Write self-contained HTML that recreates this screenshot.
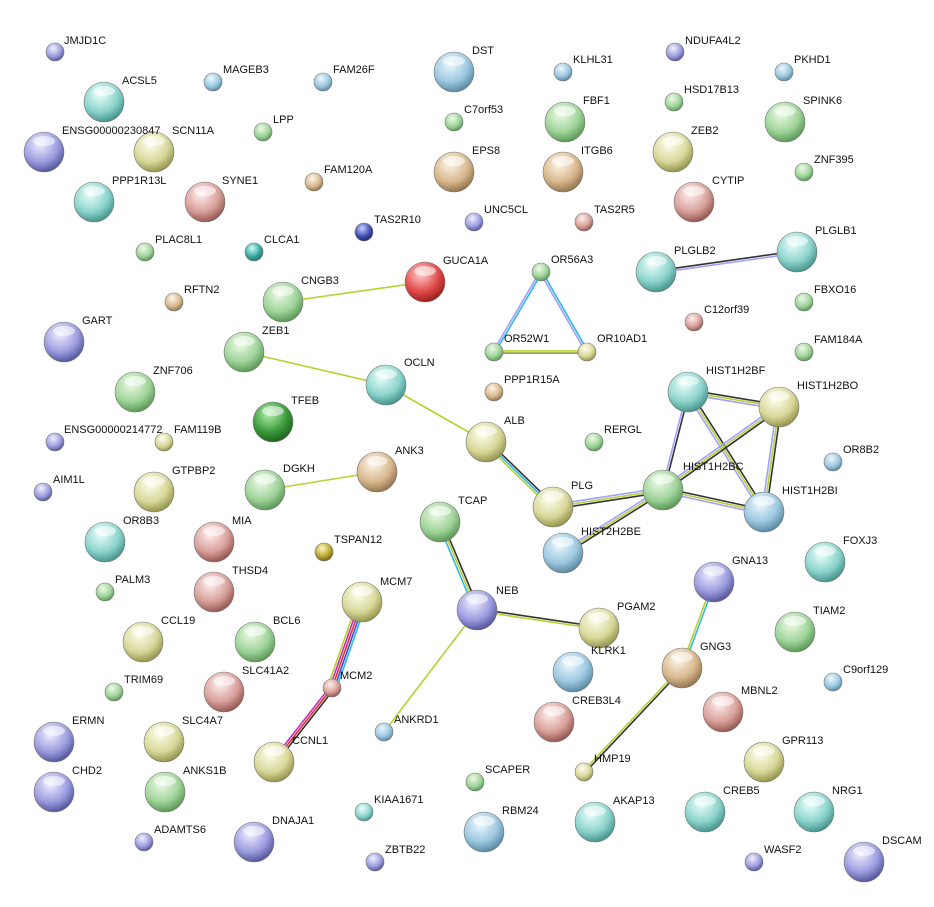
<!DOCTYPE html>
<html><head><meta charset="utf-8"><style>
html,body{margin:0;padding:0;background:#fff;width:934px;height:907px;overflow:hidden}
svg text{font-family:"Liberation Sans",sans-serif;font-size:11px;fill:#111}
</style></head><body>
<svg id="s" width="934" height="907" viewBox="0 0 934 907" xmlns="http://www.w3.org/2000/svg">
<defs>
<radialGradient id="gr" cx="40%" cy="30%" r="75%"><stop offset="0" stop-color="#eefbe8"/><stop offset=".6" stop-color="#9fd49a"/><stop offset="1" stop-color="#4f8f4a"/></radialGradient>
<radialGradient id="bl" cx="40%" cy="30%" r="75%"><stop offset="0" stop-color="#eef8ff"/><stop offset=".6" stop-color="#9cc8e0"/><stop offset="1" stop-color="#4f7f9a"/></radialGradient>
<radialGradient id="pu" cx="40%" cy="30%" r="75%"><stop offset="0" stop-color="#f0f0ff"/><stop offset=".6" stop-color="#9c9ce0"/><stop offset="1" stop-color="#4a4a90"/></radialGradient>
<radialGradient id="tn" cx="40%" cy="30%" r="75%"><stop offset="0" stop-color="#fff6ea"/><stop offset=".6" stop-color="#d8b88e"/><stop offset="1" stop-color="#8a6a40"/></radialGradient>
<radialGradient id="rd" cx="40%" cy="30%" r="75%"><stop offset="0" stop-color="#ffd0d0"/><stop offset=".6" stop-color="#e04848"/><stop offset="1" stop-color="#901818"/></radialGradient>
<radialGradient id="te" cx="40%" cy="30%" r="75%"><stop offset="0" stop-color="#eefffc"/><stop offset=".6" stop-color="#8cd4cc"/><stop offset="1" stop-color="#3a8a84"/></radialGradient>
<radialGradient id="ye" cx="40%" cy="30%" r="75%"><stop offset="0" stop-color="#fffff0"/><stop offset=".6" stop-color="#d8d89a"/><stop offset="1" stop-color="#8a8a40"/></radialGradient>
<radialGradient id="pk" cx="40%" cy="30%" r="75%"><stop offset="0" stop-color="#fff0f0"/><stop offset=".6" stop-color="#d8a09a"/><stop offset="1" stop-color="#8a4a44"/></radialGradient>
<radialGradient id="dg" cx="40%" cy="30%" r="75%"><stop offset="0" stop-color="#b8f0b0"/><stop offset=".6" stop-color="#3a9a3a"/><stop offset="1" stop-color="#1a5a1a"/></radialGradient>
<radialGradient id="db" cx="40%" cy="30%" r="75%"><stop offset="0" stop-color="#c8d0ff"/><stop offset=".6" stop-color="#4050b0"/><stop offset="1" stop-color="#1a2060"/></radialGradient>
<radialGradient id="ol" cx="40%" cy="30%" r="75%"><stop offset="0" stop-color="#fff8c0"/><stop offset=".6" stop-color="#b8a830"/><stop offset="1" stop-color="#6a5a10"/></radialGradient>
<radialGradient id="tk" cx="40%" cy="30%" r="75%"><stop offset="0" stop-color="#c8fff8"/><stop offset=".6" stop-color="#3aa8a0"/><stop offset="1" stop-color="#1a6a64"/></radialGradient>
</defs>
<g id="edges"></g>
<g id="nodes" stroke="#777" stroke-width="0.6"></g>
<g id="labels">
<text x="64" y="44">JMJD1C</text><text x="122" y="84">ACSL5</text><text x="223" y="73">MAGEB3</text><text x="333" y="73">FAM26F</text><text x="472" y="54">DST</text><text x="573" y="63">KLHL31</text><text x="685" y="44">NDUFA4L2</text><text x="794" y="63">PKHD1</text>
<text x="62" y="134">ENSG00000230847</text><text x="172" y="134">SCN11A</text><text x="273" y="123">LPP</text><text x="464" y="113">C7orf53</text><text x="583" y="104">FBF1</text><text x="684" y="93">HSD17B13</text><text x="691" y="134">ZEB2</text><text x="803" y="104">SPINK6</text>
<text x="112" y="184">PPP1R13L</text><text x="222" y="184">SYNE1</text><text x="324" y="173">FAM120A</text><text x="472" y="154">EPS8</text><text x="581" y="154">ITGB6</text><text x="814" y="163">ZNF395</text><text x="712" y="184">CYTIP</text>
<text x="374" y="223">TAS2R10</text><text x="484" y="213">UNC5CL</text><text x="594" y="213">TAS2R5</text><text x="155" y="243">PLAC8L1</text><text x="264" y="243">CLCA1</text><text x="815" y="234">PLGLB1</text><text x="674" y="254">PLGLB2</text>
<text x="443" y="264">GUCA1A</text><text x="551" y="263">OR56A3</text><text x="301" y="284">CNGB3</text><text x="184" y="293">RFTN2</text><text x="814" y="293">FBXO16</text><text x="704" y="313">C12orf39</text>
<text x="82" y="324">GART</text><text x="262" y="334">ZEB1</text><text x="504" y="342">OR52W1</text><text x="597" y="342">OR10AD1</text><text x="814" y="343">FAM184A</text><text x="404" y="366">OCLN</text><text x="504" y="383">PPP1R15A</text><text x="153" y="374">ZNF706</text>
<text x="706" y="374">HIST1H2BF</text><text x="797" y="389">HIST1H2BO</text><text x="291" y="404">TFEB</text><text x="504" y="424">ALB</text><text x="604" y="433">RERGL</text><text x="64" y="433">ENSG00000214772</text><text x="174" y="433">FAM119B</text><text x="843" y="453">OR8B2</text>
<text x="395" y="454">ANK3</text><text x="283" y="472">DGKH</text><text x="172" y="474">GTPBP2</text><text x="53" y="483">AIM1L</text><text x="683" y="470">HIST1H2BC</text><text x="782" y="494">HIST1H2BI</text><text x="571" y="489">PLG</text><text x="458" y="504">TCAP</text>
<text x="581" y="535">HIST2H2BE</text><text x="123" y="524">OR8B3</text><text x="232" y="524">MIA</text><text x="334" y="543">TSPAN12</text><text x="843" y="544">FOXJ3</text><text x="115" y="583">PALM3</text><text x="232" y="574">THSD4</text><text x="732" y="564">GNA13</text>
<text x="380" y="585">MCM7</text><text x="496" y="594">NEB</text><text x="617" y="610">PGAM2</text><text x="813" y="614">TIAM2</text><text x="161" y="624">CCL19</text><text x="273" y="624">BCL6</text><text x="591" y="654">KLRK1</text><text x="700" y="650">GNG3</text><text x="843" y="673">C9orf129</text>
<text x="124" y="683">TRIM69</text><text x="242" y="674">SLC41A2</text><text x="340" y="679">MCM2</text><text x="741" y="694">MBNL2</text><text x="72" y="724">ERMN</text><text x="182" y="724">SLC4A7</text><text x="394" y="723">ANKRD1</text><text x="572" y="704">CREB3L4</text>
<text x="292" y="744">CCNL1</text><text x="782" y="744">GPR113</text><text x="594" y="762">HMP19</text><text x="72" y="774">CHD2</text><text x="183" y="774">ANKS1B</text><text x="485" y="773">SCAPER</text><text x="613" y="804">AKAP13</text><text x="723" y="794">CREB5</text><text x="832" y="794">NRG1</text>
<text x="374" y="803">KIAA1671</text><text x="502" y="814">RBM24</text><text x="154" y="833">ADAMTS6</text><text x="272" y="824">DNAJA1</text><text x="385" y="853">ZBTB22</text><text x="764" y="853">WASF2</text><text x="882" y="844">DSCAM</text>
</g>
</svg>
<script>
var N={JMJD1C:[55,52,9,'pu'],ACSL5:[104,102,20,'te'],MAGEB3:[213,82,9,'bl'],FAM26F:[323,82,9,'bl'],DST:[454,72,20,'bl'],KLHL31:[563,72,9,'bl'],NDUFA4L2:[675,52,9,'pu'],PKHD1:[784,72,9,'bl'],
E1:[44,152,20,'pu'],SCN11A:[154,152,20,'ye'],LPP:[263,132,9,'gr'],C7:[454,122,9,'gr'],FBF1:[565,122,20,'gr'],HSD:[674,102,9,'gr'],ZEB2:[673,152,20,'ye'],SPINK6:[785,122,20,'gr'],
PPP1R13L:[94,202,20,'te'],SYNE1:[205,202,20,'pk'],FAM120A:[314,182,9,'tn'],EPS8:[454,172,20,'tn'],ITGB6:[563,172,20,'tn'],ZNF395:[804,172,9,'gr'],CYTIP:[694,202,20,'pk'],
TAS2R10:[364,232,9,'db'],UNC5CL:[474,222,9,'pu'],TAS2R5:[584,222,9,'pk'],PLAC8L1:[145,252,9,'gr'],CLCA1:[254,252,9,'tk'],PLGLB1:[797,252,20,'te'],PLGLB2:[656,272,20,'te'],
GUCA1A:[425,282,20,'rd'],OR56A3:[541,272,9,'gr'],CNGB3:[283,302,20,'gr'],RFTN2:[174,302,9,'tn'],FBXO16:[804,302,9,'gr'],C12:[694,322,9,'pk'],
GART:[64,342,20,'pu'],ZEB1:[244,352,20,'gr'],OR52W1:[494,352,9,'gr'],OR10AD1:[587,352,9,'ye'],FAM184A:[804,352,9,'gr'],OCLN:[386,385,20,'te'],PPP1R15A:[494,392,9,'tn'],ZNF706:[135,392,20,'gr'],
BF:[688,392,20,'te'],BO:[779,407,20,'ye'],TFEB:[273,422,20,'dg'],ALB:[486,442,20,'ye'],RERGL:[594,442,9,'gr'],E2:[55,442,9,'pu'],FAM119B:[164,442,9,'ye'],OR8B2:[833,462,9,'bl'],
ANK3:[377,472,20,'tn'],DGKH:[265,490,20,'gr'],GTPBP2:[154,492,20,'ye'],AIM1L:[43,492,9,'pu'],BC:[663,490,20,'gr'],BI:[764,512,20,'bl'],PLG:[553,507,20,'ye'],TCAP:[440,522,20,'gr'],
BE:[563,553,20,'bl'],OR8B3:[105,542,20,'te'],MIA:[214,542,20,'pk'],TSPAN12:[324,552,9,'ol'],FOXJ3:[825,562,20,'te'],PALM3:[105,592,9,'gr'],THSD4:[214,592,20,'pk'],GNA13:[714,582,20,'pu'],
MCM7:[362,602,20,'ye'],NEB:[477,610,20,'pu'],PGAM2:[599,628,20,'ye'],TIAM2:[795,632,20,'gr'],CCL19:[143,642,20,'ye'],BCL6:[255,642,20,'gr'],KLRK1:[573,672,20,'bl'],GNG3:[682,668,20,'tn'],C9:[833,682,9,'bl'],
TRIM69:[114,692,9,'gr'],SLC41A2:[224,692,20,'pk'],MCM2:[332,688,9,'pk'],MBNL2:[723,712,20,'pk'],ERMN:[54,742,20,'pu'],SLC4A7:[164,742,20,'ye'],ANKRD1:[384,732,9,'bl'],CREB3L4:[554,722,20,'pk'],
CCNL1:[274,762,20,'ye'],GPR113:[764,762,20,'ye'],HMP19:[584,772,9,'ye'],CHD2:[54,792,20,'pu'],ANKS1B:[165,792,20,'gr'],SCAPER:[475,782,9,'gr'],AKAP13:[595,822,20,'te'],CREB5:[705,812,20,'te'],NRG1:[814,812,20,'te'],
KIAA1671:[364,812,9,'te'],RBM24:[484,832,20,'bl'],ADAMTS6:[144,842,9,'pu'],DNAJA1:[254,842,20,'pu'],ZBTB22:[375,862,9,'pu'],WASF2:[754,862,9,'pu'],DSCAM:[864,862,20,'pu']};
var Y='#b8d030',K='#333',P='#a0a0ff',C='#30b8e0',R='#e03030',M='#c030c0',B='#3050e0';
var E=[['CNGB3','GUCA1A',[Y]],['ZEB1','OCLN',[Y]],['OCLN','ALB',[Y]],['ALB','PLG',[K,C,Y]],['OR56A3','OR52W1',[C,P]],['OR56A3','OR10AD1',[C,P]],['OR52W1','OR10AD1',[Y,'#9a9a30']],
['PLGLB2','PLGLB1',[K,P]],['BF','BO',[K,Y,P]],['BF','BC',[K,P]],['BF','BI',[K,Y,P]],['BO','BC',[K,Y,P]],['BO','BI',[K,Y,P]],['BC','BI',[K,Y,P]],['BC','BE',[K,Y,P]],['BC','PLG',[K,Y,P]],
['DGKH','ANK3',[Y]],['TCAP','NEB',[K,Y,C]],['NEB','PGAM2',[K,Y]],['NEB','ANKRD1',[Y]],['MCM7','MCM2',[C,B,R,M,Y]],['MCM2','CCNL1',[K,R,M]],['GNA13','GNG3',[C,Y]],['GNG3','HMP19',[K,Y]]];
var ns='http://www.w3.org/2000/svg',eg=document.getElementById('edges'),ng=document.getElementById('nodes');
E.forEach(function(e){var a=N[e[0]],b=N[e[1]],dx=b[0]-a[0],dy=b[1]-a[1],l=Math.hypot(dx,dy),px=-dy/l,py=dx/l,n=e[2].length;
e[2].forEach(function(c,i){var o=(i-(n-1)/2)*2.2;var L=document.createElementNS(ns,'line');L.setAttribute('x1',a[0]+px*o);L.setAttribute('y1',a[1]+py*o);L.setAttribute('x2',b[0]+px*o);L.setAttribute('y2',b[1]+py*o);L.setAttribute('stroke',c);L.setAttribute('stroke-width',1.6);eg.appendChild(L);});});
for(var k in N){var d=N[k];var c=document.createElementNS(ns,'circle');c.setAttribute('cx',d[0]);c.setAttribute('cy',d[1]);c.setAttribute('r',d[2]);c.setAttribute('fill','url(#'+d[3]+')');ng.appendChild(c);
if(d[2]>15){var h=document.createElementNS(ns,'ellipse');h.setAttribute('cx',d[0]);h.setAttribute('cy',d[1]-11);h.setAttribute('rx',11);h.setAttribute('ry',5);h.setAttribute('fill','#fff');h.setAttribute('fill-opacity','.55');h.setAttribute('stroke','none');ng.appendChild(h);}}
</script>
</body></html>
